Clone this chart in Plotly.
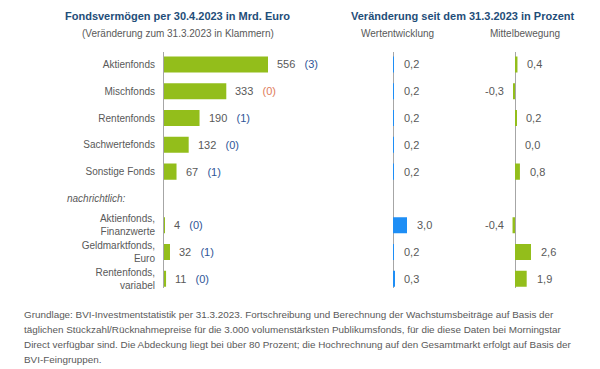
import plotly.graph_objects as go

# ---------------- data ----------------
categories = ["Aktienfonds", "Mischfonds", "Rentenfonds", "Sachwertefonds", "Sonstige Fonds",
              "", "Aktienfonds,<br>Finanzwerte", "Geldmarktfonds,<br>Euro", "Rentenfonds,<br>variabel"]
rows = [0, 1, 2, 3, 4, 6, 7, 8]
row_labels = [c for c in categories if c]
vermoegen = [556, 333, 190, 132, 67, 4, 32, 11]
veraenderung = ["(3)", "(0)", "(1)", "(0)", "(1)", "(0)", "(1)", "(0)"]
veraenderung_neg = [False, True, False, False, False, False, False, False]
wertentwicklung = [0.2, 0.2, 0.2, 0.2, 0.2, 3.0, 0.2, 0.3]
mittelbewegung = [0.4, -0.3, 0.2, 0.0, 0.8, -0.4, 2.6, 1.9]

title_left = "Fondsvermögen per 30.4.2023 in Mrd. Euro"
sub_left = "(Veränderung zum 31.3.2023 in Klammern)"
title_right = "Veränderung seit dem 31.3.2023 in Prozent"
sub_mid = "Wertentwicklung"
sub_right = "Mittelbewegung"
memo_label = "nachrichtlich:"
footnote_lines = [
    "Grundlage: BVI-Investmentstatistik per 31.3.2023. Fortschreibung und Berechnung der Wachstumsbeiträge auf Basis der",
    "täglichen Stückzahl/Rücknahmepreise für die 3.000 volumenstärksten Publikumsfonds, für die diese Daten bei Morningstar",
    "Direct verfügbar sind. Die Abdeckung liegt bei über 80 Prozent; die Hochrechnung auf den Gesamtmarkt erfolgt auf Basis der",
    "BVI-Feingruppen.",
]

# ---------------- style ----------------
FONT = "Arial, Liberation Sans, sans-serif"
GREEN = "#93BE1B"
BLUE = "#1E8EF5"
GRAY_TXT = "#595959"
TITLE_BLUE = "#1F4E79"
CHG_BLUE = "#2F5597"
CHG_RED = "#E07B5A"
AXIS_GRAY = "#A6A6A6"
W, H = 600, 369

def px_x(p):
    return p / W

def px_y(p):
    return 1 - p / H

fig = go.Figure()

fig.add_trace(go.Bar(x=vermoegen, y=rows, orientation="h", marker=dict(color=GREEN, line_width=0),
                     width=0.6, xaxis="x", yaxis="y", hoverinfo="skip"))
fig.add_trace(go.Bar(x=wertentwicklung, y=rows, orientation="h", marker=dict(color=BLUE, line_width=0),
                     width=0.6, xaxis="x2", yaxis="y", hoverinfo="skip"))
fig.add_trace(go.Bar(x=mittelbewegung, y=rows, orientation="h", marker=dict(color=GREEN, line_width=0),
                     width=0.6, xaxis="x3", yaxis="y", hoverinfo="skip"))

annotations = []
# value labels, left panel
for r, v, c, neg in zip(rows, vermoegen, veraenderung, veraenderung_neg):
    col = CHG_RED if neg else CHG_BLUE
    annotations.append(dict(x=v, y=r, xref="x", yref="y", xanchor="left", yanchor="middle",
                            xshift=7, showarrow=False,
                            text=f"{v}&nbsp;&nbsp;&nbsp;<span style='color:{col}'>{c}</span>",
                            font=dict(family=FONT, size=11, color=GRAY_TXT)))
# percent labels
for axis, vals in (("x2", wertentwicklung), ("x3", mittelbewegung)):
    for r, v in zip(rows, vals):
        txt = f"{v:.1f}".replace(".", ",")
        annotations.append(dict(x=v, y=r, xref=axis, yref="y",
                                xanchor="right" if v < 0 else "left", yanchor="middle",
                                xshift=-7 if v < 0 else 8, showarrow=False, text=txt,
                                font=dict(family=FONT, size=11, color=GRAY_TXT)))

# headers
annotations += [
    dict(x=px_x(177), y=px_y(16), xref="paper", yref="paper", xanchor="center", yanchor="middle",
         text=f"<b>{title_left}</b>", showarrow=False,
         font=dict(family=FONT, size=11, color=TITLE_BLUE)),
    dict(x=px_x(178), y=px_y(34), xref="paper", yref="paper", xanchor="center", yanchor="middle",
         text=sub_left, showarrow=False, font=dict(family=FONT, size=10, color=GRAY_TXT)),
    dict(x=px_x(462), y=px_y(16), xref="paper", yref="paper", xanchor="center", yanchor="middle",
         text=f"<b>{title_right}</b>", showarrow=False,
         font=dict(family=FONT, size=11, color=TITLE_BLUE)),
    dict(x=px_x(397), y=px_y(34), xref="paper", yref="paper", xanchor="center", yanchor="middle",
         text=sub_mid, showarrow=False, font=dict(family=FONT, size=10, color=GRAY_TXT)),
    dict(x=px_x(525), y=px_y(34), xref="paper", yref="paper", xanchor="center", yanchor="middle",
         text=sub_right, showarrow=False, font=dict(family=FONT, size=10, color=GRAY_TXT)),
    dict(x=px_x(128), y=5, xref="paper", yref="y", xanchor="right", yanchor="middle",
         text=f"<i>{memo_label}</i>", showarrow=False,
         font=dict(family=FONT, size=10, color=GRAY_TXT)),
]
# footnote
for i, line in enumerate(footnote_lines):
    annotations.append(dict(x=px_x(22), y=px_y(317 + 15 * i), xref="paper", yref="paper",
                            xanchor="left", yanchor="middle", text=line, showarrow=False,
                            font=dict(family=FONT, size=9.9, color=GRAY_TXT)))

# axis geometry (pixels -> ranges)
x1_start, x1_end, x1_scale = 164, 330, 104 / 556
x2_start, x2_end, x2_zero, x2_scale = 340, 470, 393, 14 / 3.0
x3_start, x3_end, x3_zero, x3_scale = 480, 600, 515, 16 / 2.6

hidden = dict(showgrid=False, showticklabels=False, ticks="", showline=False, fixedrange=True)

fig.update_layout(
    width=W, height=H, margin=dict(l=0, r=0, t=0, b=0),
    paper_bgcolor="white", plot_bgcolor="white", showlegend=False, barmode="overlay",
    xaxis=dict(domain=[px_x(x1_start), px_x(x1_end)], range=[0, (x1_end - x1_start) / x1_scale],
               zeroline=False, **hidden),
    xaxis2=dict(domain=[px_x(x2_start), px_x(x2_end)],
                range=[-(x2_zero - x2_start) / x2_scale, (x2_end - x2_zero) / x2_scale],
                zeroline=True, zerolinecolor=AXIS_GRAY, zerolinewidth=1, anchor="y", **hidden),
    xaxis3=dict(domain=[px_x(x3_start), px_x(x3_end)],
                range=[-(x3_zero - x3_start) / x3_scale, (x3_end - x3_zero) / x3_scale],
                zeroline=True, zerolinecolor=AXIS_GRAY, zerolinewidth=1, anchor="y", **hidden),
    yaxis=dict(domain=[px_y(290), px_y(52)], range=[8.33, -0.48], anchor="x",
               tickvals=rows, ticktext=row_labels, ticks="", showgrid=False, zeroline=False,
               showline=True, linecolor=AXIS_GRAY, linewidth=1, ticklabelstandoff=6,
               tickfont=dict(family=FONT, size=10, color=GRAY_TXT), fixedrange=True),
    annotations=annotations,
)

fig.write_html("out.html", config={"displayModeBar": False},
               post_script="document.body.style.margin='0px';")
